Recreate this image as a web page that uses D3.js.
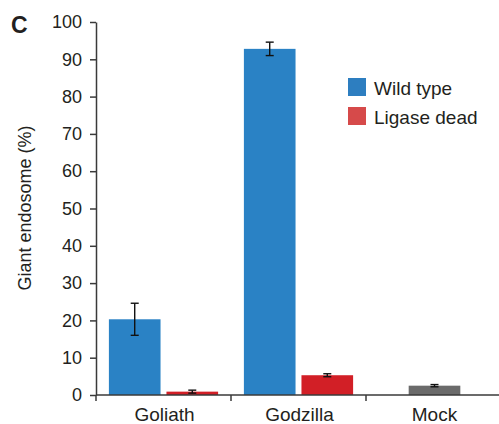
<!DOCTYPE html>
<html lang="en">
<head>
<meta charset="UTF-8">
<title>Giant endosome</title>
<style>
    body{margin:0;background:#fff;}
    svg text{font-family:"Liberation Sans",Arial,sans-serif;fill:#231f20;}
    .axis path,.axis line{stroke:#3a3a3a;stroke-width:1.5;}
    .axis text{font-size:18px;}
</style>
<script src="https://cdn.jsdelivr.net/npm/d3@7"></script>
</head>
<body>
<div id="chart"></div>
<script>
    var categories = ["Goliath", "Godzilla", "Mock"];
    var seriesNames = ["Wild type", "Ligase dead"];
    var wildType = [20.3, 92.8, null];
    var wildTypeErr = [4.3, 1.8, null];
    var ligaseDead = [0.9, 5.3, null];
    var ligaseDeadErr = [0.4, 0.4, null];
    var mock = [null, null, 2.5];
    var mockErr = [null, null, 0.3];
    var yTicks = [0, 10, 20, 30, 40, 50, 60, 70, 80, 90, 100];

    var width = 499, height = 424;
    var margin = {top: 22, left: 96, bottom: 29};
    var colors = {"Wild type": "#2a82c5", "Ligase dead": "#d21f26", "Mock": "#6b6b6b"};
    var legendColors = {"Wild type": "#2d7ec0", "Ligase dead": "#d64a4a"};

    var svg = d3.select("#chart").append("svg")
        .attr("width", width)
        .attr("height", height);

    var x = d3.scaleBand().domain(categories).range([margin.left, 501]);
    var xSub = d3.scaleBand().domain(seriesNames).range([0, x.bandwidth()])
        .paddingInner(0.103).paddingOuter(0.224);
    var y = d3.scaleLinear().domain([0, 100]).range([height - margin.bottom, margin.top]);

    // bars rows
    var bars = [];
    categories.forEach(function(c, i){
        if (wildType[i] != null) bars.push({cat: c, s: "Wild type", v: wildType[i], e: wildTypeErr[i], x: x(c) + xSub("Wild type")});
        if (ligaseDead[i] != null) bars.push({cat: c, s: "Ligase dead", v: ligaseDead[i], e: ligaseDeadErr[i], x: x(c) + xSub("Ligase dead")});
        if (mock[i] != null) bars.push({cat: c, s: "Mock", v: mock[i], e: mockErr[i], x: x(c) + (x.bandwidth() - xSub.bandwidth()) / 2 + 1});
    });

    svg.selectAll(".bar").data(bars).enter().append("rect")
        .attr("class", "bar")
        .attr("x", function(d){ return d.x; })
        .attr("y", function(d){ return y(d.v); })
        .attr("width", xSub.bandwidth())
        .attr("height", function(d){ return y(0) - y(d.v); })
        .attr("fill", function(d){ return colors[d.s]; });

    // error bars
    var err = svg.selectAll(".err").data(bars).enter().append("g").attr("class", "err")
        .attr("stroke", "#111").attr("stroke-width", 1.4);
    var cx = function(d){ return d.x + xSub.bandwidth() / 2; };
    err.append("line")
        .attr("x1", cx).attr("x2", cx)
        .attr("y1", function(d){ return y(d.v + d.e); })
        .attr("y2", function(d){ return y(d.v - d.e); });
    err.append("line")
        .attr("x1", function(d){ return cx(d) - 4; }).attr("x2", function(d){ return cx(d) + 4; })
        .attr("y1", function(d){ return y(d.v + d.e); }).attr("y2", function(d){ return y(d.v + d.e); });
    err.append("line")
        .attr("x1", function(d){ return cx(d) - 4; }).attr("x2", function(d){ return cx(d) + 4; })
        .attr("y1", function(d){ return y(d.v - d.e); }).attr("y2", function(d){ return y(d.v - d.e); });

    // y axis
    svg.append("g").attr("class", "axis")
        .attr("transform", "translate(" + margin.left + ",0)")
        .call(d3.axisLeft(y).tickValues(yTicks).tickSize(6).tickSizeOuter(0).tickPadding(8))
        .selectAll("text").attr("fill", "#231f20");

    // x axis with ticks at band boundaries
    var xAxisG = svg.append("g").attr("class", "axis")
        .attr("transform", "translate(0," + y(0) + ")");
    xAxisG.append("line").attr("x1", margin.left).attr("x2", width).attr("y1", 0).attr("y2", 0);
    xAxisG.selectAll(".bt").data(categories).enter().append("line")
        .attr("x1", function(d){ return x(d); }).attr("x2", function(d){ return x(d); })
        .attr("y1", 0).attr("y2", 6);
    xAxisG.selectAll(".lbl").data(categories).enter().append("text")
        .attr("x", function(d){ return x(d) + x.bandwidth() / 2 + 1; })
        .attr("y", 26)
        .attr("text-anchor", "middle")
        .style("font-size", "19px")
        .text(function(d){ return d; });

    // y label
    svg.append("text")
        .attr("transform", "translate(31,208) rotate(-90)")
        .attr("text-anchor", "middle")
        .style("font-size", "18px")
        .text("Giant endosome (%)");

    // panel letter
    svg.append("text")
        .attr("x", 11).attr("y", 33)
        .style("font-size", "23px").style("font-weight", "bold")
        .text("C");

    // legend
    var leg = svg.selectAll(".leg").data(seriesNames).enter().append("g")
        .attr("transform", function(d, i){ return "translate(348," + (78 + i * 29) + ")"; });
    leg.append("rect").attr("width", 18).attr("height", 18)
        .attr("fill", function(d){ return legendColors[d]; });
    leg.append("text").attr("x", 26).attr("y", 16.5)
        .style("font-size", "19px")
        .text(function(d){ return d; });
</script>
</body>
</html>
